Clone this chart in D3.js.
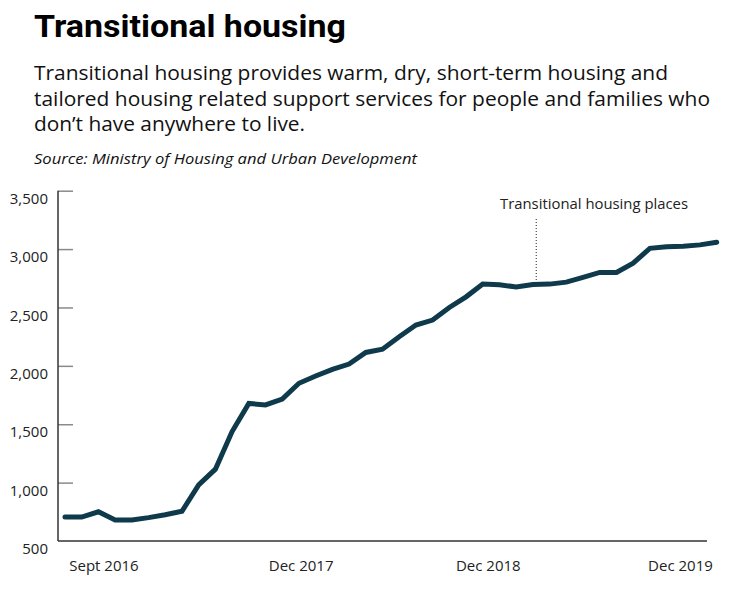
<!DOCTYPE html>
<html>
<head>
<meta charset="utf-8">
<script src="https://cdn.jsdelivr.net/npm/d3@7/dist/d3.min.js"></script>
<style>
  html, body { margin: 0; padding: 0; background: #fff; }
  svg { display: block; }
</style>
</head>
<body>
<svg id="chart" width="730" height="592"></svg>
<script>
// ---- Data ----
const months = [
  "Sep 2016","Oct 2016","Nov 2016","Dec 2016",
  "Jan 2017","Feb 2017","Mar 2017","Apr 2017","May 2017","Jun 2017",
  "Jul 2017","Aug 2017","Sep 2017","Oct 2017","Nov 2017","Dec 2017",
  "Jan 2018","Feb 2018","Mar 2018","Apr 2018","May 2018","Jun 2018",
  "Jul 2018","Aug 2018","Sep 2018","Oct 2018","Nov 2018","Dec 2018",
  "Jan 2019","Feb 2019","Mar 2019","Apr 2019","May 2019","Jun 2019",
  "Jul 2019","Aug 2019","Sep 2019","Oct 2019","Nov 2019","Dec 2019"
];
const places = [
  705, 705, 750, 680,
  680, 700, 725, 755, 980, 1115,
  1437, 1678, 1665, 1716, 1851, 1913,
  1970, 2015, 2115, 2143, 2250, 2350,
  2392, 2500, 2591, 2700, 2695, 2675,
  2697, 2700, 2717, 2757, 2800, 2800,
  2880, 3006, 3020, 3024, 3036, 3059
];
const yTicks = [500, 1000, 1500, 2000, 2500, 3000, 3500];
const xTickLabels = ["Sept 2016", "Dec 2017", "Dec 2018", "Dec 2019"];
const xTickAt = [2.3, 14.1, 25.3, 36.8]; // label centres, in month-index units
const seriesName = "Transitional housing places";
const annotationAt = 28.2;

const titleText = "Transitional housing";
const subtitleLines = [
  "Transitional housing provides warm, dry, short-term housing and",
  "tailored housing related support services for people and families who",
  "don\u2019t have anywhere to live."
];
const sourceText = "Source: Ministry of Housing and Urban Development";

// ---- Layout ----
const svg = d3.select("#chart");
const FONT = "'Open Sans', 'Noto Sans', sans-serif";
const axisLeftX = 58, plotTop = 190.7, plotBottom = 541;
const lineColor = "#0e3a4b";

const x = d3.scaleLinear().domain([0, months.length - 1]).range([65, 716.7]);
const y = d3.scaleLinear().domain([500, 3500]).range([plotBottom, plotTop]);

function fitText(sel, target) {
  const w = sel.node().getComputedTextLength();
  if (Math.abs(w - target) > 2) sel.attr("textLength", target).attr("lengthAdjust", "spacingAndGlyphs");
}

// Title
const title = svg.append("text")
  .attr("x", 34).attr("y", 37)
  .attr("font-family", "Roboto, 'Open Sans', sans-serif")
  .attr("font-weight", 700).attr("font-size", 31)
  .attr("fill", "#000").text(titleText);
fitText(title, 312);

// Subtitle
const subWidths = [634, 676, 271];
subtitleLines.forEach((t, i) => {
  const s = svg.append("text")
    .attr("x", 34).attr("y", 80 + i * 25.5)
    .attr("font-family", FONT).attr("font-size", 19.5)
    .attr("fill", "#111").text(t);
  fitText(s, subWidths[i]);
});

// Source
const src = svg.append("text")
  .attr("x", 34).attr("y", 164)
  .attr("font-family", FONT).attr("font-style", "italic").attr("font-size", 14.5)
  .attr("fill", "#111").text(sourceText);
fitText(src, 383);

// Y axis
const yAxis = d3.axisLeft(y).tickValues(yTicks).tickSize(0).tickPadding(10)
  .tickFormat(d3.format(","));
const gy = svg.append("g").attr("transform", `translate(${axisLeftX},0)`).call(yAxis);
gy.select(".domain").remove();
gy.selectAll(".tick text")
  .attr("font-family", FONT).attr("font-size", 15).attr("fill", "#222")
  .attr("dy", "0.85em");
gy.selectAll(".tick").filter(d => d !== 500)
  .append("line").attr("x1", 0).attr("x2", 15)
  .attr("stroke", "#8a8a8a").attr("stroke-width", 1.5);

// Axis lines
svg.append("line")
  .attr("x1", axisLeftX).attr("x2", axisLeftX)
  .attr("y1", plotTop).attr("y2", plotBottom)
  .attr("stroke", "#333").attr("stroke-width", 1.5);
svg.append("line")
  .attr("x1", axisLeftX).attr("x2", 707)
  .attr("y1", plotBottom).attr("y2", plotBottom)
  .attr("stroke", "#333").attr("stroke-width", 1.5);

// X axis labels
const xAxis = d3.axisBottom(x).tickValues(xTickAt).tickSize(0).tickPadding(19)
  .tickFormat((d, i) => xTickLabels[i]);
const gx = svg.append("g").attr("transform", `translate(0,${plotBottom})`).call(xAxis);
gx.select(".domain").remove();
gx.selectAll(".tick text")
  .attr("font-family", FONT).attr("font-size", 15).attr("fill", "#222");

// Line
const line = d3.line().x((d, i) => x(i)).y(d => y(d));
svg.append("path")
  .datum(places)
  .attr("d", line)
  .attr("fill", "none")
  .attr("stroke", lineColor)
  .attr("stroke-width", 5)
  .attr("stroke-linejoin", "miter")
  .attr("stroke-linecap", "round");

// Annotation
const ax = x(annotationAt);
svg.append("line")
  .attr("x1", ax).attr("x2", ax)
  .attr("y1", 219).attr("y2", y(places[28]) - 3)
  .attr("stroke", "#222").attr("stroke-width", 1)
  .attr("stroke-dasharray", "1,2");
const ann = svg.append("text")
  .attr("x", 500).attr("y", 209)
  .attr("font-family", FONT).attr("font-size", 14.5)
  .attr("fill", "#222").text(seriesName);
fitText(ann, 188);
</script>
</body>
</html>
